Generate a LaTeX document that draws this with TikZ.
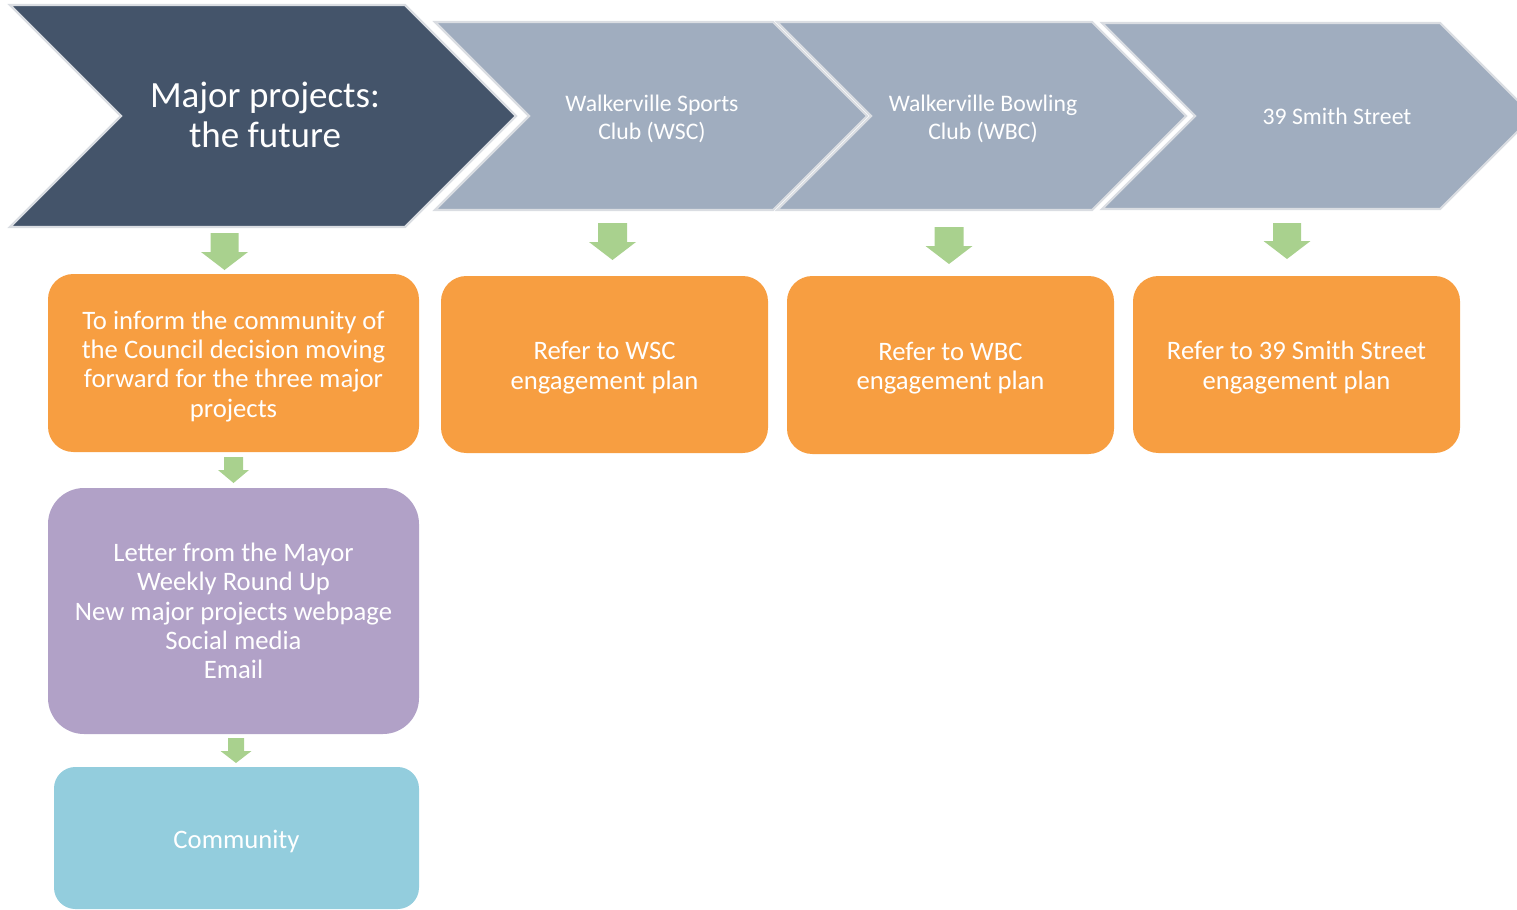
\documentclass[tikz,border=0pt]{standalone}
\usepackage{fontspec}
\setmainfont{Carlito}
\definecolor{chevdark}{RGB}{68,84,106}
\definecolor{chevlight}{RGB}{160,173,191}
\definecolor{chevedge}{RGB}{218,221,226}
\definecolor{boxorange}{RGB}{247,158,65}
\definecolor{boxpurple}{RGB}{177,161,199}
\definecolor{boxblue}{RGB}{147,205,221}
\definecolor{arrowgreen}{RGB}{169,209,142}
% block arrow pointing down: centre x, top y, neck y, tip y, half body width, half head width
\newcommand\greenarrow[6]{%
  \fill[arrowgreen] ({#1-#5},#2) -- ({#1+#5},#2) -- ({#1+#5},#3) -- ({#1+#6},#3)
    -- (#1,#4) -- ({#1-#6},#3) -- ({#1-#5},#3) -- cycle;}
% taller first line, so box text sits a little lower
\newcommand\firstline{\rule{0pt}{18.5pt}}
\begin{document}
\begin{tikzpicture}[x=0.75pt,y=-0.75pt,
  chevron/.style={draw=chevedge,line width=1.6pt,line join=miter},
  label/.style={text=white,align=center,inner sep=0pt},
  bigtxt/.style={label,font=\fontsize{27.75}{30}\selectfont},
  chevtxt/.style={label,font=\fontsize{17.8}{21}\selectfont},
  boxtxt/.style={text=white,align=center,inner sep=2pt,font=\fontsize{20}{22}\selectfont},
  obox/.style={boxtxt,fill=boxorange,rounded corners=19pt,minimum width=245.25pt,minimum height=132.75pt}
]
\useasboundingbox (0,0) rectangle (1517,910);
\begin{scope}
\clip (0,0) rectangle (1517,910);

% process chevrons
\path[chevron,fill=chevlight] (1102,23) -- (1440,23) -- (1533,116) -- (1440,209) -- (1102,209) -- (1195,116) -- cycle;
\path[chevron,fill=chevlight] (777,22) -- (1092,22) -- (1186,116) -- (1092,210) -- (777,210) -- (871,116) -- cycle;
\path[chevron,fill=chevlight] (435,22) -- (773,22) -- (867,116) -- (773,210) -- (435,210) -- (529,116) -- cycle;
\path[chevron,fill=chevdark] (10,5) -- (405,5) -- (516,116) -- (405,227) -- (10,227) -- (121,116) -- cycle;

\node[bigtxt] (major) at (265,115) {Major projects:\\the future};
\node[chevtxt] (wsc) at (652,119) {Walkerville Sports\\Club (WSC)};
\node[chevtxt] (wbc) at (983,119) {Walkerville Bowling\\Club (WBC)};
\node[chevtxt] (smith) at (1337,116) {39 Smith Street};

% activity boxes
\node[obox,minimum width=278.25pt,minimum height=133.5pt] (inform) at (233.5,363)
  {\firstline To inform the community of\\the Council decision moving\\forward for the three major\\projects};
\node[obox] (wscplan) at (604.5,364.5) {\firstline Refer to WSC\\engagement plan};
\node[obox,minimum height=133.5pt] (wbcplan) at (950.5,365) {\firstline Refer to WBC\\engagement plan};
\node[obox] (smithplan) at (1296.5,364.5) {\firstline Refer to 39 Smith Street\\engagement plan};

\node[boxtxt,fill=boxpurple,rounded corners=27pt,minimum width=278.25pt,minimum height=184.5pt] (channels) at (233.5,611)
  {Letter from the Mayor\\Weekly Round Up\\New major projects webpage\\Social media\\Email};
\node[boxtxt,fill=boxblue,rounded corners=16pt,minimum width=273.75pt,minimum height=106.5pt] (community) at (236.5,838)
  {\firstline Community};

% down arrows
\greenarrow{224.5}{233}{252}{270}{14}{23.5}
\greenarrow{612.5}{223}{242}{260}{14.5}{23.5}
\greenarrow{949}{227}{246}{264}{14.5}{23.5}
\greenarrow{1287}{223}{241}{259}{14}{23.5}
\greenarrow{233.5}{457}{470}{483}{9.5}{15.5}
\greenarrow{236}{738}{751}{763}{8}{15.5}
\end{scope}
\end{tikzpicture}
\end{document}
